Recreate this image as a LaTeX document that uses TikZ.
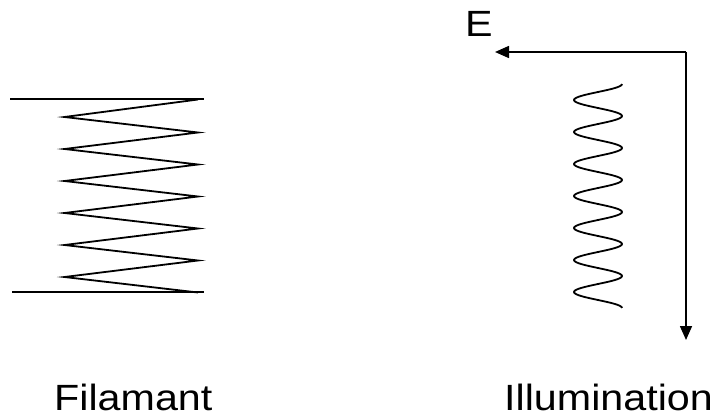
\documentclass[tikz,border=0pt]{standalone}
\usepackage{fontspec}
\setmainfont{Liberation Sans}
\usetikzlibrary{arrows.meta}
\newcommand{\widetext}[1]{\scalebox{1.13}[1]{#1}}
\begin{document}
\begin{tikzpicture}[x=1pt,y=-1pt,
  lbl/.style={inner sep=0pt,anchor=base west,font=\fontsize{36.5}{44}\selectfont},
  wire/.style={line width=1.8pt,line join=miter},
  rail/.style={line width=2.2pt},
  field/.style={line width=1.6pt,-{Triangle[length=14pt,width=12pt]}}]
  \useasboundingbox (0,0) rectangle (719,417);

  % filament: two rails with a zigzag between them
  \coordinate (tl) at (10,99);
  \coordinate (tr) at (204,99);
  \coordinate (bl) at (12,292);
  \coordinate (br) at (204,292);
  \draw[rail] (tl) -- (tr);
  \draw[rail] (bl) -- (br);
  \draw[wire] (198,99.5)
    \foreach \k in {0,...,5} { -- ({64.5},{117+32*\k}) -- ({198},{132.5+32*\k}) };

  % illumination wave
  \draw[wire,line join=round] plot[domain=0:7,samples=300,smooth]
    ({598+24*cos(360*\x)},{84+32*\x});

  % field direction arrows
  \coordinate (corner) at (686,52);
  \coordinate (west) at (495,52);
  \coordinate (south) at (686,340);
  \draw[field] (corner) -- (west);
  \draw[field] (corner) -- (south);

  % labels
  \node[lbl] (E) at (465,37) {\widetext{E}};
  \node[lbl] (fil) at (54,410) {\widetext{Filamant}};
  \node[lbl] (ill) at (504,410) {\widetext{Illumination}};
\end{tikzpicture}
\end{document}
